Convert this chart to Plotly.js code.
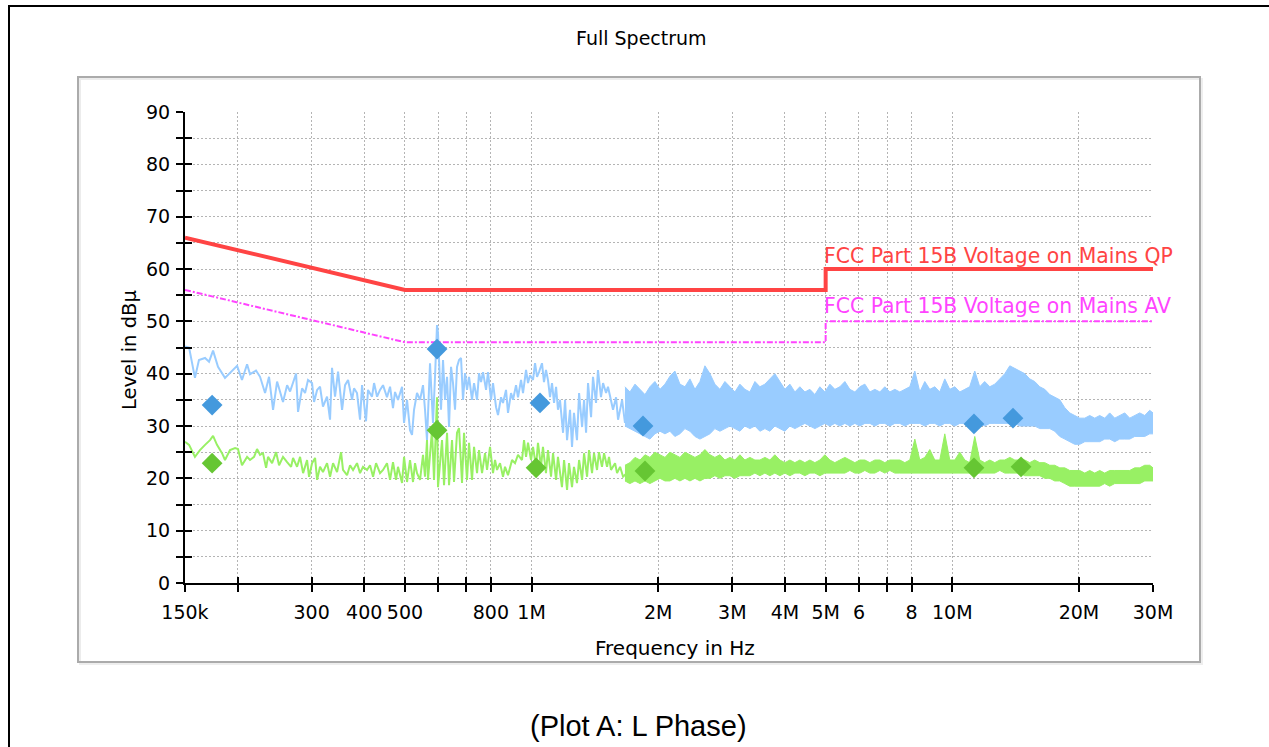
<!DOCTYPE html>
<html>
<head>
<meta charset="utf-8">
<script src="https://cdn.plot.ly/plotly-3.0.1.min.js"></script>
<style>
  html, body { margin:0; padding:0; background:#fff; width:1269px; height:747px; overflow:hidden; }
  #outer { position:absolute; left:8px; top:5px; width:1400px; height:900px; border-left:2px solid #000; border-top:2px solid #000; }
  #inner { position:absolute; left:77px; top:76px; width:1124px; height:587px; box-sizing:border-box;
           border:2px solid #ababab; background:#fff; box-shadow: inset 2px 2px 0 #ececec, 2px 2px 0 #eeeeee; }
  #chart { position:absolute; left:0; top:0; width:1269px; height:747px; }
</style>
</head>
<body>
<div id="outer"></div>
<div id="inner"></div>
<div id="chart"></div>
<script>
// ---------- DATA (frequencies in kHz, levels in dBµV) ----------
const xTickVals = [150,200,300,400,500,600,700,800,1000,2000,3000,4000,5000,6000,7000,8000,10000,20000,30000];
const xTickText = ['150k','','300','400','500','','','800','1M','2M','3M','4M','5M','6','','8','10M','20M','30M'];
const yTickVals = [0,5,10,15,20,25,30,35,40,45,50,55,60,65,70,75,80,85,90];
const yTickText = ['0','','10','','20','','30','','40','','50','','60','','70','','80','','90'];

// Limit lines
const limitFreq = [150, 500, 5000, 5000, 30000];
const limitQP   = [66, 56, 56, 60, 60];
const limitAV   = [56, 46, 46, 50, 50];

// Peak (QP) trace, low-frequency part
const blueLowFreq = [150.0,153.4,158.4,161.9,167.4,171.1,174.9,179.7,186.7,191.9,199.5,204.9,210.7,214.1,221.3,226.2,232.5,237.6,242.9,248.3,256.5,262.3,266.6,275.5,278.5,284.7,289.4,294.1,300.7,304.0,309.1,314.1,319.2,326.4,331.8,335.4,341.0,346.7,354.4,360.2,366.2,374.3,378.3,384.6,391.0,395.3,404.0,408.5,417.5,422.2,429.2,436.2,443.4,453.2,460.8,468.3,473.5,481.3,492.1,497.5,505.7,514.0,519.7,525.4,534.1,543.0,551.9,558.0,564.1,573.5,582.9,589.4,595.9,599.1,609.1,615.8,622.6,629.5,636.4,643.4,650.4,657.6,664.8,672.2,679.6,687.0,694.6,702.2,710.0,721.8,729.7,741.8,750.0,758.2,766.5,779.3,787.7,800.9,809.6,823.1,832.0,845.9,855.1,869.4,878.8,893.5,903.2,918.3,928.3,943.8,954.1,970.0,980.5,991.4,1007.8,1019,1030.2,1041.2,1058.5,1070.1,1081.9,1093.8,1106,1118.2,1130.7,1143.3,1155.2,1168,1187.8,1201,1214.2,1234,1247.6,1261.0,1281.9,1296.8,1318.3,1332.6,1347.4,1361.9,1384.6,1399.4,1422.8,1438.0,1462.0,1478.6,1503.2,1519.1,1544.4,1561.6,1587.7,1605.1,1640.9,1667,1694.7];
const blueLowVal = [45.2,45.0,39.2,42.6,43.0,42.3,44.4,41.3,39.2,40.1,41.5,38.8,41.8,39.9,40.6,39.4,36.3,39.4,33.1,38.5,34.6,37.8,36.6,40.0,32.7,37.2,36.3,38.8,38.2,34.6,36.9,37.5,33.7,35.6,31.2,41.1,35.6,40.4,33.1,37.8,38.8,35.0,37.2,36.3,31.2,37.8,30.9,36.9,35.6,38.2,35.6,36.9,37.8,35.5,37.5,33.4,36.5,35.0,37.5,30.6,35.0,29.2,28.3,33.1,36.3,35.0,37.8,33.1,27.3,42.0,30.6,39.4,49.3,47.8,33.1,42.6,35.0,39.4,29.8,41.3,38.2,33.1,41.3,42.6,43.0,35.0,40.1,36.9,39.4,35.0,38.2,35.0,40.1,38.4,40.3,36.9,40.3,35.0,38.2,33.6,32.1,35.5,34.4,36.9,32.5,36.3,35.0,37.8,35.5,38.8,36.3,40.7,38.2,39.7,38.8,42.0,39.4,40.3,42.0,38.4,40.7,38.8,35.5,38.2,34.4,37.5,33.1,35.0,28.7,35.0,27.3,33.1,26.0,32.5,27.3,36.3,29.8,35.0,28.7,38.2,31.7,39.4,34.4,40.7,35.5,38.2,36.3,37.5,35.0,33.1,35.5,31.2,35.0,30.6,33.6];

// Average trace, low-frequency part
const greenLowFreq = [150.0,153.4,158.4,162.8,167.4,172.0,174.9,178.7,183.7,186.7,191.9,197.3,200.5,204.9,210.7,214.1,218.9,222.5,226.2,229.9,233.8,236.3,241.6,247.0,251.0,256.5,262.3,268.1,271.0,277.0,281.6,286.3,292.6,295.8,300.7,305.7,309.1,314.1,319.2,326.4,331.8,337.3,344.8,352.4,356.2,364.2,370.2,376.3,384.6,391.0,397.4,406.2,413.0,419.9,426.8,436.2,443.4,453.2,460.8,468.3,476.1,481.3,492.1,497.5,505.7,514.0,522.5,528.3,534.1,543.0,551.9,558.0,564.1,567.2,579.8,586.2,595.9,599.1,612.5,619.2,629.5,636.4,646.9,654.0,664.8,672.2,683.3,690.8,702.2,710.0,721.8,729.7,741.8,750.0,762.4,775.0,783.5,796.5,809.6,818.6,827.6,841.3,855.1,864.6,878.8,898.4,913.3,928.3,948.9,959.4,970.0,980.5,996.9,1007.8,1024.6,1035.5,1052.8,1064.2,1081.9,1093.8,1112.1,1124.5,1143.3,1155.2,1180.8,1194.4,1214.2,1227.2,1247.6,1261.0,1281.9,1296.8,1318.3,1332.6,1354.7,1369.4,1392.1,1407.2,1430.6,1446.0,1470.0,1486.8,1511.4,1527.6,1544.4,1579,1596.4,1623,1649.9,1685.3,1703.6];
const greenLowVal = [27.0,26.4,24.1,25.4,26.4,27.3,28.1,26.4,24.8,23.5,25.4,25.8,25.6,22.5,24.1,23.5,24.1,25.6,24.5,24.8,22.0,24.1,22.9,25.0,22.5,24.1,23.1,22.2,23.9,22.2,24.1,21.0,23.5,20.3,22.9,23.9,19.7,22.2,21.2,22.9,20.3,22.9,21.2,25.0,21.6,20.6,22.5,21.6,22.9,21.0,22.2,21.6,22.5,20.3,22.9,21.0,21.6,22.9,19.7,23.1,19.7,22.2,19.1,24.1,19.3,23.5,19.3,22.9,21.0,19.7,24.5,20.3,27.3,19.7,29.2,19.7,35.5,18.3,27.3,18.7,28.7,18.7,27.3,19.3,28.7,29.6,19.1,28.7,19.7,26.8,19.7,26.0,21.0,25.4,21.0,24.8,21.6,26.0,21.0,23.5,21.6,22.9,20.3,22.2,20.6,23.5,22.9,24.5,23.5,27.3,24.1,26.8,23.5,26.0,22.2,26.8,22.2,26.0,21.0,25.4,20.3,24.8,19.7,24.1,18.3,23.5,17.8,22.9,18.3,22.2,19.1,23.5,19.7,24.8,20.3,25.4,21.0,24.8,21.6,25.0,22.2,24.8,22.2,24.1,21.6,22.9,21.0,22.2,20.3,21.0,19.1];

// Dense high-frequency part: upper / lower envelopes
const bandFreq = [1667,1713,1761,1810,1860,1911,1964,2019,2075,2132,2191,2252,2315,2379,2445,2513,2582,2654,2727,2803,2881,2961,3043,3127,3214,3303,3395,3489,3586,3685,3787,3892,4000,4111,4225,4342,4463,4586,4714,4844,4979,5117,5259,5405,5555,5709,5867,6030,6197,6369,6545,6727,6913,7105,7302,7504,7712,7926,8146,8372,8604,8842,9087,9339,9598,9864,10140,10420,10710,11000,11310,11620,11940,12280,12620,12970,13330,13700,14080,14470,14870,15280,15700,16140,16590,17050,17520,18010,18510,19020,19550,20090,20650,21220,21810,22410,23030,23670,24330,25000,25700,26410,27140,27900,28670,29460,30000];
const blueTop = [37.5,36.5,38.0,37.0,36.0,37.5,38.5,37.0,38.0,39.5,40.5,38.0,37.5,39.0,37.0,38.5,41.5,40.0,38.0,37.0,38.5,37.5,36.5,38.0,37.0,36.5,38.5,37.5,38.0,39.0,40.0,38.5,37.0,38.0,36.5,37.5,36.5,37.0,36.0,37.5,36.5,38.0,37.0,37.5,38.5,37.0,36.5,37.5,38.0,36.5,37.0,36.5,37.5,36.5,37.0,36.5,37.0,37.5,40.5,36.5,38.5,37.0,37.5,36.5,39.0,37.0,37.5,36.5,37.0,37.5,40.5,37.5,38.5,37.5,38.0,39.0,40.0,41.5,41.0,40.5,40.0,39.0,38.5,37.5,37.0,36.0,35.5,35.0,33.5,32.5,32.0,31.5,31.5,32.0,31.5,32.0,31.5,32.5,31.5,32.0,32.5,31.5,32.0,32.5,32.0,33.0,32.5];
const blueBot = [30.0,29.5,29.0,28.5,28.0,27.5,28.5,29.0,28.5,29.0,28.0,28.5,29.5,29.0,28.0,27.5,28.0,28.5,29.5,29.0,29.5,30.0,29.5,29.0,30.0,29.5,30.0,29.0,29.5,29.0,30.0,29.5,29.0,30.0,29.5,30.0,30.5,30.0,29.5,30.0,30.5,30.0,30.5,30.0,30.5,30.0,30.5,30.0,30.5,30.5,30.0,30.5,30.5,30.0,30.5,30.5,30.0,30.5,30.5,30.5,30.0,30.5,30.5,30.0,30.5,30.5,30.0,30.5,30.5,30.0,30.5,30.5,30.0,30.5,30.5,30.5,30.5,30.5,30.5,30.0,30.0,30.0,30.0,29.5,29.5,29.5,29.0,28.0,27.5,27.0,26.5,26.5,27.0,27.0,27.0,27.0,27.5,27.5,27.0,27.5,27.5,27.5,28.0,28.0,28.0,28.5,28.5];
const greenTop = [22.5,23.0,24.0,23.5,24.5,24.0,25.0,24.5,24.0,25.0,24.5,24.0,25.0,24.5,24.0,24.5,25.5,24.5,24.0,24.5,23.5,24.0,23.5,24.5,23.5,24.0,23.5,23.5,24.0,23.5,24.5,23.5,23.0,23.5,23.0,23.5,23.0,23.5,23.0,23.5,24.5,23.5,23.0,23.5,24.0,23.5,23.0,23.5,23.5,23.0,23.5,23.5,23.0,23.5,23.5,23.5,23.0,23.5,27.5,23.5,24.0,25.5,23.5,23.5,28.5,23.5,23.5,25.0,23.5,23.0,28.0,23.5,23.0,23.5,23.0,23.5,23.5,24.0,23.5,23.5,23.5,23.0,23.5,23.0,23.0,22.5,22.5,22.0,22.0,21.5,21.5,21.5,21.0,21.5,21.0,21.5,21.0,21.5,21.5,21.5,21.5,21.5,22.0,22.0,22.5,22.5,22.0];
const greenBot = [19.5,19.0,19.5,19.0,19.5,19.0,19.5,20.0,19.5,19.5,20.0,19.5,20.0,19.5,20.0,19.5,20.0,20.0,20.5,20.0,20.5,20.5,20.0,20.5,20.5,20.5,21.0,20.5,21.0,20.5,21.0,20.5,21.0,20.5,21.0,21.0,20.5,21.0,21.0,20.5,21.0,21.0,21.0,21.0,21.0,21.5,21.0,21.0,21.5,21.0,21.0,21.5,21.0,21.5,21.0,21.0,21.0,21.0,21.0,21.0,21.0,21.0,21.0,21.0,21.0,21.0,21.0,21.0,21.0,21.0,21.0,21.0,21.0,21.0,21.0,21.5,21.0,21.0,21.0,21.0,20.5,20.5,20.5,20.5,20.0,20.0,19.5,19.5,19.0,18.5,18.5,18.5,18.5,18.5,18.5,18.5,19.0,18.5,19.0,19.0,19.0,19.0,19.0,19.0,19.5,19.5,19.5];

// Final measurement markers
const qpFreq = [174, 596, 1047, 1840, 11260, 13940];
const qpVal  = [34.0, 44.7, 34.4, 30.0, 30.4, 31.5];
const avFreq = [174, 596, 1025, 1860, 11260, 14570];
const avVal  = [22.9, 29.2, 22.0, 21.4, 22.0, 22.2];

// ---------- STYLE ----------
const BLUE_LINE = '#99ccff', GREEN_LINE = '#98f064';
const BLUE_MARK = '#4499dd', GREEN_MARK = '#66c633';
const QP_RED = '#ff4444', AV_MAG = '#ff44ff';
const FONT = 'DejaVu Sans';

const traces = [
  {x: bandFreq, y: blueBot, mode:'lines', line:{color:BLUE_LINE, width:1}, hoverinfo:'skip'},
  {x: bandFreq, y: blueTop, mode:'lines', fill:'tonexty', fillcolor:BLUE_LINE, line:{color:BLUE_LINE, width:1}, hoverinfo:'skip'},
  {x: blueLowFreq, y: blueLowVal, mode:'lines', line:{color:BLUE_LINE, width:2}},
  {x: bandFreq, y: greenBot, mode:'lines', line:{color:GREEN_LINE, width:1}, hoverinfo:'skip'},
  {x: bandFreq, y: greenTop, mode:'lines', fill:'tonexty', fillcolor:GREEN_LINE, line:{color:GREEN_LINE, width:1}, hoverinfo:'skip'},
  {x: greenLowFreq, y: greenLowVal, mode:'lines', line:{color:GREEN_LINE, width:2}},
  {x: limitFreq, y: limitAV, mode:'lines', line:{color:AV_MAG, width:2, dash:'6px,2px,2px,2px'}},
  {x: limitFreq, y: limitQP, mode:'lines', line:{color:QP_RED, width:4}},
  {x: qpFreq, y: qpVal, mode:'markers', marker:{symbol:'diamond', size:16, color:BLUE_MARK, line:{width:0}}},
  {x: avFreq, y: avVal, mode:'markers', marker:{symbol:'diamond', size:16, color:GREEN_MARK, line:{width:0}}},
  {x: [], y: [], xaxis:'x2', yaxis:'y2', mode:'lines'}
];

const xRange = [Math.log10(150), Math.log10(30000)];
const layout = {
  width:1269, height:747,
  margin:{l:185, r:116, t:112, b:164, pad:0},
  paper_bgcolor:'rgba(0,0,0,0)', plot_bgcolor:'rgba(0,0,0,0)',
  showlegend:false,
  font:{family:FONT, color:'#000'},
  xaxis:{type:'log', range:xRange, tickvals:xTickVals, ticktext:xTickText,
         ticks:'outside', ticklen:7, tickwidth:2, tickcolor:'#000',
         showline:true, linecolor:'#000', linewidth:2,
         showgrid:true, gridcolor:'#b4b4b4', gridwidth:1, griddash:'2px,2px',
         zeroline:false, tickfont:{family:FONT, size:19, color:'#000'}, ticklabelstandoff:4},
  yaxis:{range:[0,90], tickvals:yTickVals, ticktext:yTickText,
         ticks:'outside', ticklen:7, tickwidth:2, tickcolor:'#000',
         showline:true, linecolor:'#000', linewidth:2,
         showgrid:true, gridcolor:'#b4b4b4', gridwidth:1, griddash:'2px,2px',
         zeroline:false, tickfont:{family:FONT, size:19, color:'#000'}, ticklabelstandoff:2},
  xaxis2:{type:'log', range:xRange, overlaying:'x', anchor:'y2', side:'bottom', tickvals:xTickVals,
          ticks:'inside', ticklen:6, tickwidth:2, tickcolor:'#000', showticklabels:false,
          showgrid:false, showline:false, zeroline:false},
  yaxis2:{range:[0,90], overlaying:'y', anchor:'x2', side:'left', tickvals:yTickVals,
          ticks:'inside', ticklen:7, tickwidth:2, tickcolor:'#000', showticklabels:false,
          showgrid:false, showline:false, zeroline:false},
  annotations:[
    {text:'Full Spectrum', xref:'paper', yref:'paper', x:0.472, y:1.157, xanchor:'center', yanchor:'middle', showarrow:false,
     font:{family:FONT, size:19, color:'#000'}},
    {text:'Frequency in Hz', xref:'paper', yref:'paper', x:0.506, y:-0.138, xanchor:'center', yanchor:'middle', showarrow:false,
     font:{family:FONT, size:20, color:'#000'}},
    {text:'Level in dBµ', xref:'paper', yref:'paper', x:-0.0568, y:0.4947, xanchor:'center', yanchor:'middle', textangle:-90, showarrow:false,
     font:{family:FONT, size:19.5, color:'#000'}},
    {text:'(Plot A: L Phase)', xref:'paper', yref:'paper', x:0.469, y:-0.3036, xanchor:'center', yanchor:'middle', showarrow:false,
     font:{family:'Liberation Sans', size:29, color:'#000'}},
    {text:'FCC Part 15B Voltage on Mains QP', xref:'x', yref:'y', x:Math.log10(5000), y:62.5,
     xanchor:'left', yanchor:'middle', xshift:-4, showarrow:false, font:{family:FONT, size:20.4, color:QP_RED}},
    {text:'FCC Part 15B Voltage on Mains AV', xref:'x', yref:'y', x:Math.log10(5000), y:52.9,
     xanchor:'left', yanchor:'middle', xshift:-4, showarrow:false, font:{family:FONT, size:20.4, color:AV_MAG}}
  ]
};

Plotly.newPlot('chart', traces, layout, {displayModeBar:false, staticPlot:true});
</script>
</body>
</html>
